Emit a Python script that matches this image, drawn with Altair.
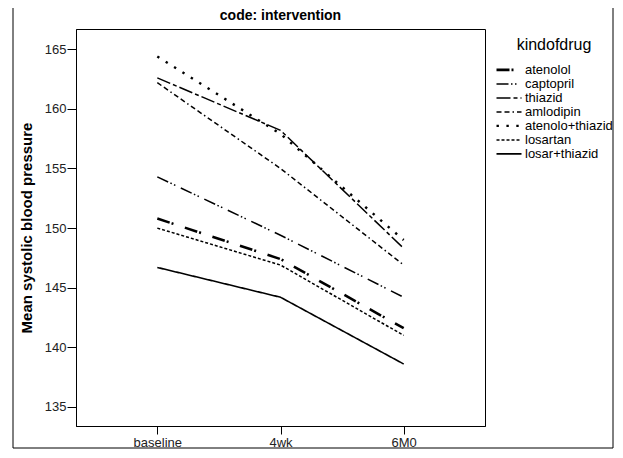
import altair as alt
import pandas as pd

timepoints = ["baseline", "4wk", "6M0"]
drugs = ["atenolol", "captopril", "thiazid", "amlodipin", "atenolo+thiazid", "losartan", "losar+thiazid"]
atenolol = [150.8, 147.4, 141.6]
captopril = [154.3, 149.4, 144.2]
thiazid = [162.6, 158.2, 148.3]
amlodipin = [162.2, 155.0, 146.9]
atenolo_thiazid = [164.4, 157.9, 149.0]
losartan = [150.0, 146.9, 141.0]
losar_thiazid = [146.7, 144.2, 138.6]
y_ticks = [135, 140, 145, 150, 155, 160, 165]

series = [atenolol, captopril, thiazid, amlodipin, atenolo_thiazid, losartan, losar_thiazid]
rows = []
for name, vals in zip(drugs, series):
    for t, v in zip(timepoints, vals):
        rows.append({"kindofdrug": name, "time": t, "sbp": v})
df = pd.DataFrame(rows)

dashes = [[13, 2, 2, 12], [12, 2.5, 1.5, 2.5, 1.5, 6], [14, 3, 4, 3], [5, 3, 5, 3, 1.5, 3],
          [2.4, 7.5], [3, 2], [1, 0]]
widths = [2.6, 1.5, 1.5, 1.5, 2.4, 1.5, 1.6]

FONT = "Liberation Sans"

frame = alt.Chart(pd.DataFrame({"a": [0]})).mark_rect(
    fillOpacity=0, stroke="black", strokeWidth=1
).encode(
    x=alt.value(-63), x2=alt.value(537), y=alt.value(-25), y2=alt.value(419)
)

lines = alt.Chart(df).mark_line(color="black", strokeCap="butt").encode(
    x=alt.X("time:N", sort=timepoints,
            scale=alt.Scale(type="point", padding=0.66),
            axis=alt.Axis(title="", labelAngle=0, labelFontSize=13, labelFont=FONT,
                          labelColor="#222", tickSize=8, tickColor="black",
                          domainColor="black", labelPadding=2)),
    y=alt.Y("sbp:Q", scale=alt.Scale(domain=[133.4, 166.7], nice=False, zero=False),
            axis=alt.Axis(title="Mean systolic blood pressure", values=y_ticks,
                          titleFontSize=15, titleFont=FONT, titleFontWeight="bold",
                          titleColor="black", titlePadding=10,
                          labelFontSize=13, labelFont=FONT, labelColor="#222",
                          tickSize=9, tickColor="black", domainColor="black",
                          labelPadding=1, grid=False)),
    strokeDash=alt.StrokeDash("kindofdrug:N", sort=drugs,
                              scale=alt.Scale(domain=drugs, range=dashes),
                              legend=alt.Legend(title="kindofdrug")),
    strokeWidth=alt.StrokeWidth("kindofdrug:N", sort=drugs,
                                scale=alt.Scale(type="ordinal", domain=drugs, range=widths),
                                legend=alt.Legend(title="kindofdrug")),
    detail="kindofdrug:N",
)

chart = alt.layer(frame, lines).properties(
    width=409, height=397,
    title=alt.TitleParams("code: intervention", fontSize=14, fontWeight="bold",
                          font=FONT, anchor="middle", offset=-19, color="black"),
    padding={"left": 68, "top": 21, "right": 130, "bottom": 23},
    autosize="none",
).configure_view(stroke="black", strokeWidth=1).configure_legend(
    orient="none", legendX=419, legendY=8, padding=0,
    titleFontSize=16, titleFontWeight="normal", titleFont=FONT, titleColor="black",
    titleAnchor="middle", titlePadding=10,
    labelFontSize=13, labelFont=FONT, labelColor="black", labelOffset=2,
    symbolType="stroke", symbolSize=625, symbolStrokeColor="black",
    clipHeight=13.8, rowPadding=0,
)

chart.save("out.html", embed_options={"renderer": "svg", "actions": False})
